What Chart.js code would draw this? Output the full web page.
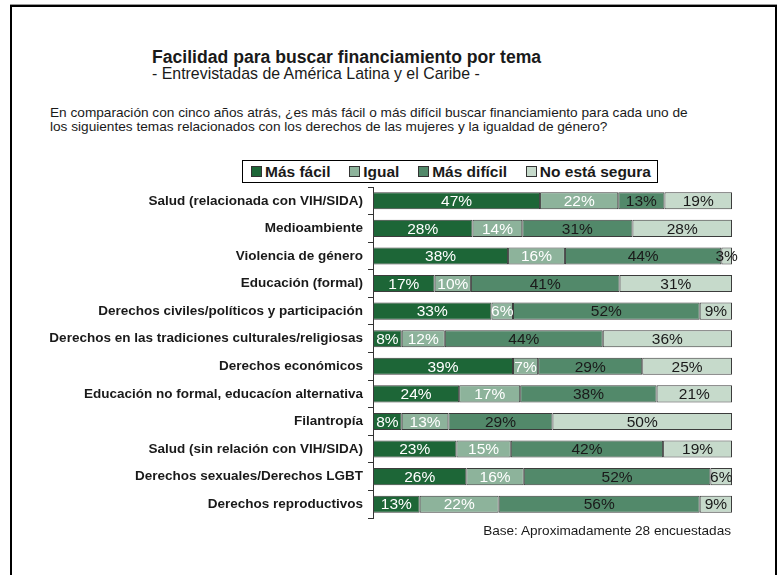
<!DOCTYPE html>
<html>
<head>
<meta charset="utf-8">
<script src="https://cdn.jsdelivr.net/npm/chart.js@4"></script>
<style>
  body { margin: 0; background: #fff; font-family: "Liberation Sans", Arial, sans-serif; color: #1a1a1a; }
  #wrap { position: relative; width: 779px; height: 575px; overflow: hidden; }
  #frame { position: absolute; left: 10px; top: 5px; width: 763px; height: 600px; border: 2px solid #000; border-bottom: none; box-shadow: 0 -1px 0 #999; }
  .txt { position: absolute; white-space: nowrap; }
  #title { left: 152px; top: 47px; font-size: 17.6px; font-weight: bold; line-height: 20px; }
  #subtitle { left: 152px; top: 65px; font-size: 15.9px; line-height: 18px; }
  #question { left: 50px; top: 106px; font-size: 13.65px; line-height: 14px; }
  #legend { position: absolute; left: 242px; top: 160px; width: 400px; height: 21px; padding: 0 6px 0 8px; border: 1px solid #000; display: flex; align-items: center; justify-content: space-between; font-size: 15.5px; font-weight: bold; background: #fff; }
  #legend span.sq { display: inline-block; width: 9px; height: 9px; border: 1px solid #333; margin-right: 3px; vertical-align: 0px; }
  #base { right: 48px; top: 524px; font-size: 13.6px; line-height: 14px; }
  canvas { position: absolute; left: 0; top: 0; }
</style>
</head>
<body>
<div id="wrap">
  <div id="frame"></div>
  <div class="txt" id="title">Facilidad para buscar financiamiento por tema</div>
  <div class="txt" id="subtitle">- Entrevistadas de América Latina y el Caribe -</div>
  <div class="txt" id="question">En comparación con cinco años atrás, ¿es más fácil o más difícil buscar financiamiento para cada uno de<br>los siguientes temas relacionados con los derechos de las mujeres y la igualdad de género?</div>
  <div id="legend"></div>
  <canvas id="myChart" width="779" height="575"></canvas>
  <div class="txt" id="base">Base: Aproximadamente 28 encuestadas</div>
</div>
<script>
const categories = [
  'Salud (relacionada con VIH/SIDA)',
  'Medioambiente',
  'Violencia de género',
  'Educación (formal)',
  'Derechos civiles/políticos y participación',
  'Derechos en las tradiciones culturales/religiosas',
  'Derechos económicos',
  'Educación no formal, educacíon alternativa',
  'Filantropía',
  'Salud (sin relación con VIH/SIDA)',
  'Derechos sexuales/Derechos LGBT',
  'Derechos reproductivos'
];
const seriesNames = ['Más fácil', 'Igual', 'Más difícil', 'No está segura'];
const masFacil   = [47, 28, 38, 17, 33, 8, 39, 24, 8, 23, 26, 13];
const igual      = [22, 14, 16, 10, 6, 12, 7, 17, 13, 15, 16, 22];
const masDificil = [13, 31, 44, 41, 52, 44, 29, 38, 29, 42, 52, 56];
const noSegura   = [19, 28, 3, 31, 9, 36, 25, 21, 50, 19, 6, 9];

const fills = ['#1d6637', '#8db39b', '#52896a', '#c6dacb'];
const labelColors = ['#ffffff', '#ffffff', '#1a1a1a', '#1a1a1a'];

const series = [masFacil, igual, masDificil, noSegura];
// 100% stacked: each row is scaled to its own total
const totals = categories.map((c, j) => series.reduce((s, arr) => s + arr[j], 0));

// html legend
const legend = document.getElementById('legend');
seriesNames.forEach((name, i) => {
  const item = document.createElement('div');
  item.innerHTML = '<span class="sq" style="background:' + fills[i] + '"></span>' + name;
  legend.appendChild(item);
});

const segmentLabels = {
  id: 'segmentLabels',
  afterDatasetsDraw(chart) {
    const ctx = chart.ctx;
    ctx.save();
    ctx.font = '15.5px "Liberation Sans", Arial, sans-serif';
    ctx.textAlign = 'center';
    ctx.textBaseline = 'middle';
    chart.data.datasets.forEach((ds, i) => {
      ctx.fillStyle = labelColors[i];
      chart.getDatasetMeta(i).data.forEach((bar, j) => {
        ctx.fillText(ds.raw[j] + '%', (bar.x + bar.base) / 2, bar.y + 1);
      });
    });
    ctx.restore();
  }
};

new Chart(document.getElementById('myChart'), {
  type: 'bar',
  data: {
    labels: categories,
    datasets: series.map((arr, i) => ({
      label: seriesNames[i],
      raw: arr,
      data: arr.map((v, j) => v / totals[j] * 100),
      backgroundColor: fills[i],
      borderColor: '#3c3c3c',
      borderWidth: 1,
      borderSkipped: false,
      barPercentage: 0.62,
      categoryPercentage: 1
    }))
  },
  options: {
    indexAxis: 'y',
    responsive: false,
    animation: false,
    devicePixelRatio: 1,
    layout: { padding: { left: 0, right: 47, top: 187, bottom: 57 } },
    plugins: { legend: { display: false }, tooltip: { enabled: false } },
    scales: {
      x: { stacked: true, min: 0, max: 100, display: false },
      y: {
        stacked: true,
        afterFit: (scale) => { scale.width = 373; },
        grid: { offset: true, drawOnChartArea: false, drawTicks: true, tickLength: 5, color: '#333' },
        border: { display: true, color: '#333', width: 1 },
        ticks: {
          padding: 5,
          color: '#1a1a1a',
          font: { family: '"Liberation Sans", Arial, sans-serif', size: 13.5, weight: 'bold' }
        }
      }
    }
  },
  plugins: [segmentLabels]
});
</script>
</body>
</html>
